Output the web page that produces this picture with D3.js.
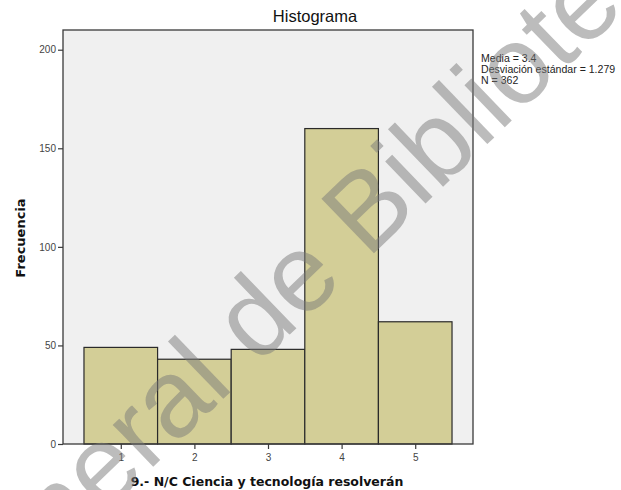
<!DOCTYPE html>
<html>
<head>
<meta charset="utf-8">
<script src="https://cdn.jsdelivr.net/npm/d3@7"></script>
<style>
  html, body { margin: 0; padding: 0; background: #ffffff; }
  svg { display: block; }
</style>
</head>
<body>
<svg id="chart" width="621" height="490"></svg>
<script>
// Response categories (scale 1–5) and their frequencies
const categories = [1, 2, 3, 4, 5];
const frequencies = [49, 43, 48, 160, 62];
const yTicks = [0, 50, 100, 150, 200];
const statLines = ["Media = 3.4", "Desviación estándar = 1.279", "N = 362"];
const titleText = "Histograma";
const xLabel = "9.- N/C Ciencia y tecnología resolverán";
const yLabel = "Frecuencia";
const watermark = "Dirección General de Bibliotecas";

const svg = d3.select("#chart");
const plot = { left: 63, right: 473, top: 30, bottom: 444 };

const x = d3.scaleLinear().domain([0.215, 5.785]).range([plot.left, plot.right]);
const y = d3.scaleLinear().domain([0, 210]).range([plot.bottom, plot.top]);

// plot background
svg.append("rect")
  .attr("x", plot.left).attr("y", plot.top)
  .attr("width", plot.right - plot.left).attr("height", plot.bottom - plot.top)
  .attr("fill", "#f0f0f0");

// histogram bars, one bin per category, width 1
svg.append("g").selectAll("rect")
  .data(categories.map((c, i) => ({ c, v: frequencies[i] })))
  .join("rect")
  .attr("x", d => x(d.c - 0.5))
  .attr("y", d => y(d.v))
  .attr("width", d => x(d.c + 0.5) - x(d.c - 0.5))
  .attr("height", d => y(0) - y(d.v))
  .attr("fill", "#d3ce97")
  .attr("stroke", "#2a2a2a")
  .attr("stroke-width", 1.2);

// frame
svg.append("rect")
  .attr("x", plot.left).attr("y", plot.top)
  .attr("width", plot.right - plot.left).attr("height", plot.bottom - plot.top)
  .attr("fill", "none").attr("stroke", "#3a3a3a").attr("stroke-width", 1.3);

// axes
const yAxis = svg.append("g")
  .attr("transform", `translate(${plot.left},0)`)
  .call(d3.axisLeft(y).tickValues(yTicks).tickFormat(d3.format("d"))
    .tickSize(5).tickSizeOuter(0).tickPadding(2));
const xAxis = svg.append("g")
  .attr("transform", `translate(0,${plot.bottom})`)
  .call(d3.axisBottom(x).tickValues(categories).tickFormat(d3.format("d"))
    .tickSize(5).tickSizeOuter(0).tickPadding(5));
[yAxis, xAxis].forEach(g => {
  g.select(".domain").remove();
  g.selectAll(".tick line").attr("stroke", "#3a3a3a").attr("stroke-width", 1.2);
  g.selectAll(".tick text")
    .attr("fill", "#444")
    .attr("font-family", "Liberation Sans, Arial, sans-serif")
    .attr("font-size", 10);
});

// title
svg.append("text")
  .attr("x", 315).attr("y", 22)
  .attr("text-anchor", "middle")
  .attr("font-family", "Liberation Sans, Arial, sans-serif")
  .attr("font-size", 16.5)
  .attr("fill", "#111")
  .text(titleText);

// axis titles
svg.append("text")
  .attr("transform", "translate(25,238) rotate(-90)")
  .attr("text-anchor", "middle")
  .attr("font-family", "DejaVu Sans, sans-serif")
  .attr("font-weight", "bold")
  .attr("font-size", 13)
  .attr("fill", "#111")
  .text(yLabel);

svg.append("text")
  .attr("x", 267).attr("y", 486)
  .attr("text-anchor", "middle")
  .attr("font-family", "DejaVu Sans, sans-serif")
  .attr("font-weight", "bold")
  .attr("font-size", 12.5)
  .attr("fill", "#111")
  .text(xLabel);

// summary statistics, set in a condensed face
svg.append("g")
  .attr("transform", "translate(481,0) scale(0.92,1)")
  .selectAll("text")
  .data(statLines)
  .join("text")
  .attr("x", 0)
  .attr("y", (d, i) => 62 + i * 11.2)
  .attr("font-family", "Liberation Sans, Arial, sans-serif")
  .attr("font-size", 11.5)
  .attr("fill", "#222")
  .text(d => d);

// library watermark across the page, placed by the "l" of "General"
const wm = svg.append("text")
  .attr("font-family", "Liberation Sans, Arial, sans-serif")
  .attr("font-size", 110)
  .attr("fill", "#7a7a7a")
  .attr("fill-opacity", 0.5)
  .text(watermark);
const lIndex = watermark.indexOf("l de");
const lStart = wm.node().getStartPositionOfChar(lIndex).x;
wm.attr("transform", `translate(218,404) rotate(-44) translate(${-lStart},0)`);
</script>
</body>
</html>
